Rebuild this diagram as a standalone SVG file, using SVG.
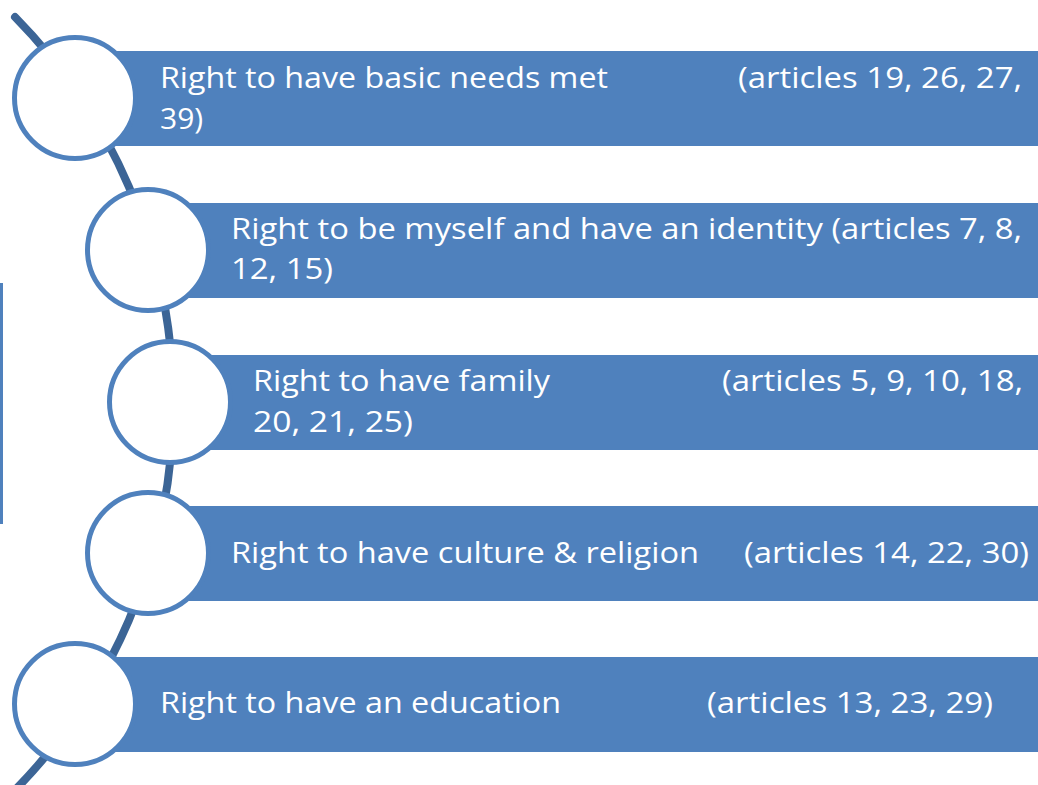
<svg xmlns="http://www.w3.org/2000/svg" width="1038" height="785" viewBox="0 0 1038 785">
<style>
.bar{fill:#4F81BD}
.ring{fill:#FFFFFF;stroke:#4F81BD;stroke-width:5}
.t{font-family:"Open Sans","Noto Sans","Liberation Sans",sans-serif;font-size:30px;fill:#FFFFFF}
</style>
<rect x="0" y="283" width="3" height="241" fill="#4F81BD"/>
<g id="connectors">
<path d="M 15 17 A 551 551 0 0 1 15 790" fill="none" stroke="#3C6596" stroke-width="8" stroke-linecap="round"/>
</g>
<g id="node1">
<rect class="bar" x="75" y="51" width="963" height="95"/>
<circle class="ring" cx="75" cy="98" r="60.5"/>
<text class="t" x="160" y="88" textLength="448" lengthAdjust="spacingAndGlyphs">Right to have basic needs met</text>
<text class="t" x="738" y="88" textLength="284" lengthAdjust="spacingAndGlyphs">(articles 19, 26, 27,</text>
<text class="t" x="160" y="129">39)</text>
</g>
<g id="node2">
<rect class="bar" x="148" y="203" width="890" height="95"/>
<circle class="ring" cx="148" cy="250" r="60.5"/>
<text class="t" x="231" y="239" textLength="791" lengthAdjust="spacingAndGlyphs">Right to be myself and have an identity (articles 7, 8,</text>
<text class="t" x="231" y="279" textLength="102" lengthAdjust="spacingAndGlyphs">12, 15)</text>
</g>
<g id="node3">
<rect class="bar" x="170" y="355" width="868" height="95"/>
<circle class="ring" cx="170" cy="402" r="60.5"/>
<text class="t" x="253" y="391" textLength="297" lengthAdjust="spacingAndGlyphs">Right to have family</text>
<text class="t" x="722" y="391" textLength="301" lengthAdjust="spacingAndGlyphs">(articles 5, 9, 10, 18,</text>
<text class="t" x="253" y="432" textLength="160" lengthAdjust="spacingAndGlyphs">20, 21, 25)</text>
</g>
<g id="node4">
<rect class="bar" x="148" y="506" width="890" height="95"/>
<circle class="ring" cx="148" cy="553" r="60.5"/>
<text class="t" x="231" y="563" textLength="468" lengthAdjust="spacingAndGlyphs">Right to have culture &amp; religion</text>
<text class="t" x="744" y="563" textLength="285" lengthAdjust="spacingAndGlyphs">(articles 14, 22, 30)</text>
</g>
<g id="node5">
<rect class="bar" x="75" y="657" width="963" height="95"/>
<circle class="ring" cx="75" cy="704" r="60.5"/>
<text class="t" x="160" y="713" textLength="401" lengthAdjust="spacingAndGlyphs">Right to have an education</text>
<text class="t" x="707" y="713" textLength="286" lengthAdjust="spacingAndGlyphs">(articles 13, 23, 29)</text>
</g>
</svg>
